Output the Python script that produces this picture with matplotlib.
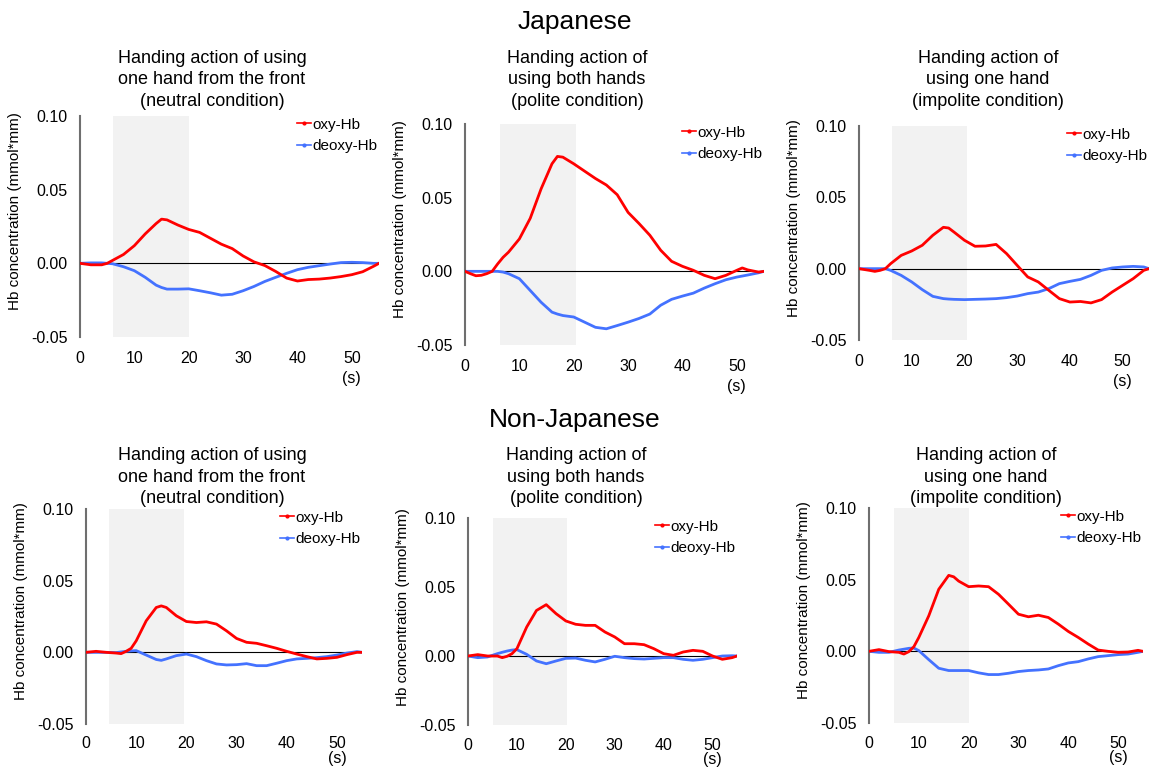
import matplotlib
matplotlib.use('Agg')
import matplotlib.pyplot as plt
from matplotlib.lines import Line2D

plt.rcParams['font.family'] = ['Liberation Sans', 'DejaVu Sans']

# ---- data (time in s, Hb in mmol*mm) ----
jp_neutral_t = [0, 2, 4, 5, 6, 8, 10, 12, 14, 15, 16, 18, 20, 22, 24, 26, 28, 30, 32, 34, 36, 38, 40, 42, 44, 46, 48, 50, 52, 54, 55]
jp_neutral_oxy = [0, -0.001, -0.001, 0, 0.002, 0.006, 0.012, 0.020, 0.027, 0.030, 0.0295, 0.026, 0.023, 0.021, 0.017, 0.013,
                  0.010, 0.005, 0.001, -0.0015, -0.0055, -0.010, -0.012, -0.011, -0.0107, -0.010, -0.009, -0.0077, -0.0057, -0.002, 0]
jp_neutral_deoxy = [0, 0.0003, 0.0003, 0, -0.0003, -0.0023, -0.005, -0.0095, -0.0148, -0.0164, -0.0175, -0.0175, -0.0173, -0.0186,
                    -0.020, -0.0216, -0.021, -0.0186, -0.0157, -0.0123, -0.0095, -0.0068, -0.0043, -0.0027, -0.0016, -0.0005,
                    0.0005, 0.0007, 0.0005, 0, 0]

jp_polite_t = [0, 1, 2, 3, 4, 5, 6, 7, 8, 10, 12, 14, 16, 17, 18, 20, 22, 24, 26, 28, 30, 32, 34, 36, 38, 40, 42, 44, 46, 48, 50, 51, 52, 54, 55]
jp_polite_oxy = [0, -0.0016, -0.003, -0.0027, -0.0016, 0, 0.005, 0.0095, 0.013, 0.022, 0.036, 0.056, 0.073, 0.078, 0.0775, 0.073,
                 0.068, 0.063, 0.0586, 0.052, 0.040, 0.0325, 0.0245, 0.0143, 0.0068, 0.0034, 0.0007, -0.0027, -0.005, -0.0027,
                 0.0007, 0.0023, 0.001, -0.0005, 0]
jp_polite_deoxy = [0, 0, 0, 0, 0, 0, 0, -0.0005, -0.0016, -0.005, -0.013, -0.021, -0.0277, -0.029, -0.030, -0.031, -0.0345, -0.038,
                   -0.039, -0.0368, -0.0345, -0.032, -0.029, -0.023, -0.019, -0.0168, -0.0148, -0.0114, -0.0084, -0.0057, -0.0039,
                   -0.0032, -0.0025, -0.001, 0]

jp_impolite_t = [0, 2, 3, 4, 5, 6, 8, 10, 12, 14, 16, 17, 18, 20, 22, 24, 26, 28, 30, 32, 34, 36, 38, 40, 42, 44, 46, 48, 50, 52, 54, 55]
jp_impolite_oxy = [0, -0.0012, -0.0019, -0.0012, 0, 0.0035, 0.0093, 0.0124, 0.0164, 0.0234, 0.029, 0.0285, 0.0257, 0.0199, 0.0157,
                   0.0159, 0.017, 0.0105, 0.0023, -0.0058, -0.0093, -0.0152, -0.021, -0.0234, -0.023, -0.024, -0.0217, -0.0164,
                   -0.0117, -0.007, -0.0012, 0]
jp_impolite_deoxy = [0, 0, 0, 0, 0, -0.0012, -0.0047, -0.0093, -0.0147, -0.0194, -0.021, -0.0213, -0.0215, -0.0217, -0.0215, -0.0213,
                     -0.021, -0.0203, -0.0192, -0.0175, -0.0164, -0.014, -0.0105, -0.0089, -0.0075, -0.0047, -0.0012, 0.0005,
                     0.0012, 0.0016, 0.0012, 0]

nj_neutral_t = [0, 2, 4, 6, 7, 8, 9, 10, 12, 14, 15, 16, 18, 20, 22, 24, 26, 28, 30, 32, 34, 36, 38, 40, 42, 44, 46, 48, 50, 52, 54, 55]
nj_neutral_oxy = [0, 0.0007, 0, -0.0005, -0.0009, 0.0007, 0.0028, 0.008, 0.022, 0.0313, 0.0324, 0.0313, 0.0255, 0.0215, 0.0208,
                  0.0213, 0.0197, 0.015, 0.0097, 0.007, 0.0063, 0.0046, 0.0028, 0.0007, -0.0012, -0.003, -0.0046, -0.0042,
                  -0.0035, -0.0016, 0, 0]
nj_neutral_deoxy = [0, 0, 0, -0.0002, 0.0003, 0.0007, 0.001, 0.0012, -0.0019, -0.005, -0.0056, -0.0046, -0.0023, -0.0012, -0.003,
                    -0.0058, -0.0081, -0.0088, -0.0086, -0.0079, -0.0093, -0.0093, -0.0076, -0.0058, -0.0046, -0.0042, -0.0037,
                    -0.003, -0.0019, -0.0005, 0.0005, 0]

nj_polite_t = [0, 2, 4, 6, 7, 8, 9, 10, 12, 14, 16, 18, 20, 22, 24, 26, 28, 30, 32, 34, 36, 38, 40, 42, 44, 46, 48, 50, 52, 54, 55]
nj_polite_oxy = [0, 0.001, 0, 0, -0.0012, -0.0002, 0.0017, 0.0053, 0.021, 0.033, 0.0372, 0.0307, 0.0254, 0.023, 0.0222, 0.0222,
                 0.0174, 0.0138, 0.0089, 0.0089, 0.0082, 0.0053, 0.0017, 0.0005, 0.0029, 0.0041, 0.0034, 0, -0.0024, -0.0012, 0]
nj_polite_deoxy = [0, -0.0012, -0.0007, 0.0017, 0.0027, 0.0036, 0.0043, 0.0046, 0.0012, -0.0036, -0.0056, -0.0036, -0.0017,
                   -0.0015, -0.0031, -0.0043, -0.0024, -0.0002, -0.0012, -0.0019, -0.0022, -0.0017, -0.0012, -0.0012, -0.0024,
                   -0.0031, -0.0024, -0.0012, 0, 0.0002, 0]

nj_impolite_t = [0, 2, 4, 6, 7, 8, 9, 10, 12, 14, 16, 17, 18, 20, 22, 24, 26, 28, 30, 32, 34, 36, 38, 40, 42, 44, 46, 48, 50, 52, 54, 55]
nj_impolite_oxy = [0, 0.0012, -0.0002, -0.0007, -0.0019, -0.0002, 0.0032, 0.0097, 0.0248, 0.0433, 0.053, 0.052, 0.049, 0.0451,
                   0.0456, 0.0451, 0.0398, 0.0329, 0.0259, 0.0241, 0.0252, 0.0236, 0.019, 0.0139, 0.0097, 0.0051, 0.0009, 0,
                   -0.0007, -0.0005, 0.0007, 0]
nj_impolite_deoxy = [0, -0.0007, -0.0007, 0.0009, 0.0015, 0.0021, 0.0023, 0.0005, -0.0058, -0.0118, -0.0134, -0.0134, -0.0134,
                     -0.0134, -0.015, -0.0162, -0.0162, -0.0153, -0.0141, -0.0134, -0.013, -0.0123, -0.01, -0.0081, -0.0072,
                     -0.0053, -0.0037, -0.003, -0.0023, -0.0019, -0.0007, 0]

# task period (grey band) per panel
task_start = [6, 6.5, 6.2, 4.6, 5.1, 5.0]
task_end = [20, 20.5, 20.4, 19.5, 20.2, 20.1]

titles = [
    "Handing action of using\none hand from the front\n(neutral condition)",
    "Handing action of\nusing both hands\n(polite condition)",
    "Handing action of\nusing one hand\n(impolite condition)",
]
series = [
    (jp_neutral_t, jp_neutral_oxy, jp_neutral_deoxy),
    (jp_polite_t, jp_polite_oxy, jp_polite_deoxy),
    (jp_impolite_t, jp_impolite_oxy, jp_impolite_deoxy),
    (nj_neutral_t, nj_neutral_oxy, nj_neutral_deoxy),
    (nj_polite_t, nj_polite_oxy, nj_polite_deoxy),
    (nj_impolite_t, nj_impolite_oxy, nj_impolite_deoxy),
]

RED = '#FF0000'
BLUE = '#4472FF'
W, H = 1150, 768

# axes boxes in pixels: left, top, right, bottom
boxes = [(80, 116, 379, 337), (465, 124, 764, 345), (859, 126, 1149, 340),
         (86, 509, 362, 724), (468, 518, 737, 725), (869, 508, 1143, 723)]
title_x = [212, 577, 988, 212, 576, 986]
title_y = [80, 80, 80, 477, 477, 477]

fig = plt.figure(figsize=(W / 100, H / 100), dpi=100)
fig.text(575 / W, 1 - 22 / H, "Japanese", ha='center', va='center', fontsize=19)
fig.text(575 / W, 1 - 420 / H, "Non-Japanese", ha='center', va='center', fontsize=19)

for i, (t, oxy, deoxy) in enumerate(series):
    l, tp, r, b = boxes[i]
    ax = fig.add_axes([l / W, 1 - b / H, (r - l) / W, (b - tp) / H])
    ax.axvspan(task_start[i], task_end[i], color='#F2F2F2', zorder=0, lw=0)
    ax.axhline(0, color='black', lw=0.8, zorder=1)
    ax.plot(t, oxy, color=RED, lw=2.0, zorder=3)
    ax.plot(t, deoxy, color=BLUE, lw=2.0, zorder=2)
    ax.set_xlim(0, 55)
    ax.set_ylim(-0.05, 0.10)
    ax.set_xticks([0, 10, 20, 30, 40, 50])
    ax.set_yticks([-0.05, 0, 0.05, 0.10])
    ax.set_yticklabels(['-0.05', '0.00', '0.05', '0.10'])
    ax.tick_params(axis='both', length=0, labelsize=11.5)
    ax.tick_params(axis='x', pad=10 if i < 3 else 9)
    ax.tick_params(axis='y', pad=9)
    for s in ['top', 'right', 'bottom']:
        ax.spines[s].set_visible(False)
    ax.spines['left'].set_color('#6f6f6f')
    ax.spines['left'].set_linewidth(1.5)
    ax.set_ylabel("Hb concentration (mmol*mm)", fontsize=11)
    ax.yaxis.set_label_coords(-58 / (r - l), 0.57)
    ax.annotate("(s)", xy=(50, 0), xycoords=('data', 'axes fraction'),
                xytext=(0, -30 if i < 3 else -24.5), textcoords='offset points',
                ha='center', va='center', fontsize=11.5)
    handles = [Line2D([], [], color=RED, lw=1.2, marker='o', markersize=2),
               Line2D([], [], color=BLUE, lw=1.2, marker='o', markersize=2)]
    ax.legend(handles, ['oxy-Hb', 'deoxy-Hb'], loc='upper right', frameon=False,
              fontsize=11, handlelength=0.9, handletextpad=0.1, labelspacing=0.5,
              borderaxespad=0.0, borderpad=0.1)
    fig.text(title_x[i] / W, 1 - title_y[i] / H, titles[i % 3], ha='center', va='center',
             fontsize=13, linespacing=1.35)

plt.savefig('out.png', dpi=100)
